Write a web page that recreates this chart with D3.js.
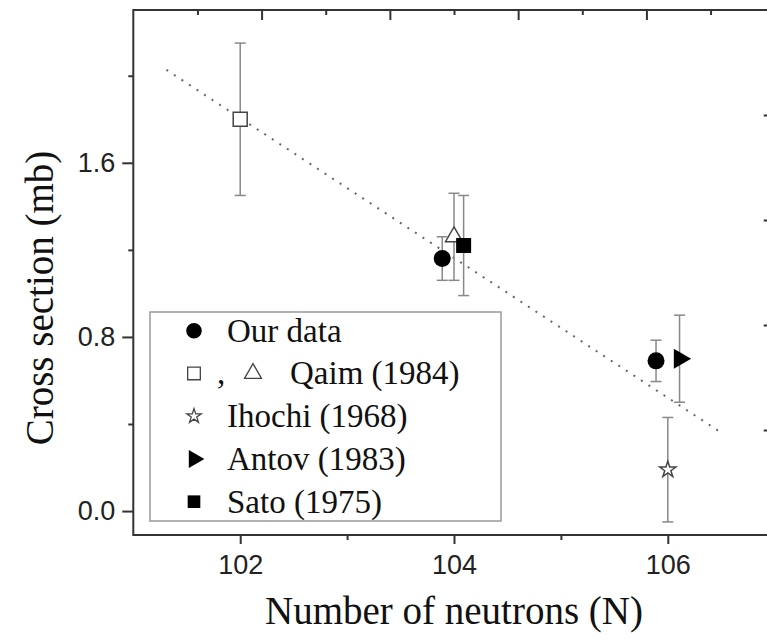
<!DOCTYPE html>
<html>
<head>
<meta charset="utf-8">
<script src="https://cdn.jsdelivr.net/npm/d3@7"></script>
<style>
body{margin:0;background:#fff}
</style>
</head>
<body>
<script>
// data
var ourN = [103.89, 105.89], ourCS = [1.16, 0.69], ourErr = [0.10, 0.095];
var qaimSqN = [102.0], qaimSqCS = [1.80], qaimSqErr = [0.35];
var qaimTriN = [104.0], qaimTriCS = [1.26], qaimTriErr = [0.20];
var ihochiN = [106.0], ihochiCS = [0.19], ihochiErr = [0.24];
var antovN = [106.11], antovCS = [0.70], antovErr = [0.20];
var satoN = [104.09], satoCS = [1.22], satoErr = [0.23];
var fitN = [101.31, 106.5], fitCS = [2.027, 0.36];

var xMajor = [102, 104, 106], xMinor = [103, 105];
var yMajor = [0.0, 0.8, 1.6], yMinor = [0.4, 1.2, 2.0];
var auxMajor = [1, 2, 3, 4], auxMinor = [0.5, 1.5, 2.5, 3.5, 4.5];
var legendLabels = ["Our data", "Qaim (1984)", "Ihochi (1968)", "Antov (1983)", "Sato (1975)"];

var W = 767, H = 640;
var pLeft = 133.3, pRight = 774.7, pTop = 10, pBottom = 535;

var svg = d3.select("body").append("svg")
	.attr("width", W).attr("height", H)
	.style("font-family", "'Liberation Sans', Arial, sans-serif");

svg.append("rect").attr("width", W).attr("height", H).attr("fill", "#fff");

var x = d3.scaleLinear().domain([101, 107]).range([pLeft, pRight]);
var y = d3.scaleLinear().domain([-0.11, 2.302]).range([pBottom, pTop]);
// unlabelled top/right axes
var x2 = d3.scaleLinear().domain([0, 5]).range([pLeft, pRight]);
var y2 = d3.scaleLinear().domain([0, 5]).range([pBottom, pTop]);

function style(g){
	g.select(".domain").remove();
	g.selectAll("line").attr("stroke", "#333").attr("stroke-width", 2);
	g.selectAll("text").attr("fill", "#222").style("font-size", "27px")
		.style("font-family", "'Liberation Sans', Arial, sans-serif");
}

svg.append("g").attr("transform", "translate(" + pLeft + ",0)")
	.call(d3.axisLeft(y).tickValues(yMajor).tickSize(11).tickPadding(7).tickFormat(d3.format(".1f"))).call(style);
svg.append("g").attr("transform", "translate(" + pLeft + ",0)")
	.call(d3.axisLeft(y).tickValues(yMinor).tickSize(5).tickFormat("")).call(style);
svg.append("g").attr("transform", "translate(0," + pBottom + ")")
	.call(d3.axisBottom(x).tickValues(xMajor).tickSize(9).tickPadding(11).tickFormat(d3.format("d"))).call(style);
svg.append("g").attr("transform", "translate(0," + pBottom + ")")
	.call(d3.axisBottom(x).tickValues(xMinor).tickSize(5).tickFormat("")).call(style);
svg.append("g").attr("transform", "translate(0," + pTop + ")")
	.call(d3.axisTop(x2).tickValues(auxMajor).tickSize(-10).tickFormat("")).call(style);
svg.append("g").attr("transform", "translate(0," + pTop + ")")
	.call(d3.axisTop(x2).tickValues(auxMinor).tickSize(-5).tickFormat("")).call(style);
svg.append("g").attr("transform", "translate(" + pRight + ",0)")
	.call(d3.axisRight(y2).tickValues(auxMajor).tickSize(-11).tickFormat("")).call(style);
svg.append("g").attr("transform", "translate(" + pRight + ",0)")
	.call(d3.axisRight(y2).tickValues(auxMinor).tickSize(-5).tickFormat("")).call(style);

// frame
svg.append("rect")
	.attr("x", pLeft).attr("y", pTop)
	.attr("width", pRight - pLeft).attr("height", pBottom - pTop)
	.attr("fill", "none").attr("stroke", "#333").attr("stroke-width", 2);

// axis titles
svg.append("text")
	.attr("x", (pLeft + pRight) / 2).attr("y", 624)
	.attr("text-anchor", "middle")
	.style("font-family", "'Liberation Serif', 'Times New Roman', serif")
	.style("font-size", "39px").attr("fill", "#111")
	.text("Number of neutrons (N)");
svg.append("text")
	.attr("transform", "translate(53,298) rotate(-90)")
	.attr("text-anchor", "middle")
	.style("font-family", "'Liberation Serif', 'Times New Roman', serif")
	.style("font-size", "39px").attr("fill", "#111")
	.text("Cross section (mb)");

// fit line
svg.append("path")
	.datum(d3.zip(fitN, fitCS))
	.attr("d", d3.line().x(function(d){ return x(d[0]); }).y(function(d){ return y(d[1]); }))
	.attr("fill", "none").attr("stroke", "#666").attr("stroke-width", 2)
	.attr("stroke-dasharray", "2,7");

var series = [
	{n: qaimSqN, cs: qaimSqCS, err: qaimSqErr, type: d3.symbolSquare, size: 196, fill: "#fff", rot: 0},
	{n: qaimTriN, cs: qaimTriCS, err: qaimTriErr, type: d3.symbolTriangle, size: 125, fill: "#fff", rot: 0},
	{n: ourN, cs: ourCS, err: ourErr, type: d3.symbolCircle, size: 227, fill: "#000", rot: 0},
	{n: satoN, cs: satoCS, err: satoErr, type: d3.symbolSquare, size: 225, fill: "#000", rot: 0},
	{n: antovN, cs: antovCS, err: antovErr, type: d3.symbolTriangle, size: 173, fill: "#000", rot: 90},
	{n: ihochiN, cs: ihochiCS, err: ihochiErr, type: d3.symbolStar, size: 80, fill: "#fff", rot: 0}
];

var cap = 5.5;
series.forEach(function(s){
	var pts = s.n.map(function(v, i){ return {n: v, cs: s.cs[i], e: s.err[i]}; });
	var eb = svg.append("g").attr("stroke", "#888").attr("stroke-width", 1.5);
	pts.forEach(function(p){
		var px = x(p.n);
		eb.append("line").attr("x1", px).attr("x2", px).attr("y1", y(p.cs + p.e)).attr("y2", y(p.cs - p.e));
		eb.append("line").attr("x1", px - cap).attr("x2", px + cap).attr("y1", y(p.cs + p.e)).attr("y2", y(p.cs + p.e));
		eb.append("line").attr("x1", px - cap).attr("x2", px + cap).attr("y1", y(p.cs - p.e)).attr("y2", y(p.cs - p.e));
	});
	svg.selectAll(null).data(pts).enter().append("path")
		.attr("d", d3.symbol().type(s.type).size(s.size))
		.attr("transform", function(p){ return "translate(" + x(p.n) + "," + y(p.cs) + ") rotate(" + s.rot + ")"; })
		.attr("fill", s.fill)
		.attr("stroke", s.fill == "#000" ? "none" : "#444")
		.attr("stroke-width", 1.5);
});

// legend
var lg = svg.append("g");
lg.append("rect").attr("x", 150).attr("y", 312).attr("width", 351).attr("height", 209)
	.attr("fill", "#fff").attr("stroke", "#999").attr("stroke-width", 1.5);

var rowY = function(i){ return 341.7 + i * 42.75; };
var legendSyms = [
	[{dx: 194, type: d3.symbolCircle, size: 190, fill: "#000", rot: 0}],
	[{dx: 194, type: d3.symbolSquare, size: 160, fill: "#fff", rot: 0},
	 {dx: 253, type: d3.symbolTriangle, size: 125, fill: "#fff", rot: 0}],
	[{dx: 194, type: d3.symbolStar, size: 65, fill: "#fff", rot: 0}],
	[{dx: 194, type: d3.symbolTriangle, size: 140, fill: "#000", rot: 90}],
	[{dx: 194, type: d3.symbolSquare, size: 160, fill: "#000", rot: 0}]
];
legendLabels.forEach(function(lab, i){
	var by = rowY(i);
	legendSyms[i].forEach(function(s){
		lg.append("path")
			.attr("d", d3.symbol().type(s.type).size(s.size))
			.attr("transform", "translate(" + s.dx + "," + (by - 11) + ") rotate(" + s.rot + ")")
			.attr("fill", s.fill)
			.attr("stroke", s.fill == "#000" ? "none" : "#444")
			.attr("stroke-width", 1.3);
	});
	if (i == 1) {
		lg.append("text").attr("x", 217).attr("y", by)
			.style("font-family", "'Liberation Serif', 'Times New Roman', serif")
			.style("font-size", "33px").attr("fill", "#111").text(",");
	}
	lg.append("text")
		.attr("x", i == 1 ? 290 : 227).attr("y", by)
		.style("font-family", "'Liberation Serif', 'Times New Roman', serif")
		.style("font-size", "33px").attr("fill", "#111")
		.text(lab);
});
</script>
</body>
</html>
